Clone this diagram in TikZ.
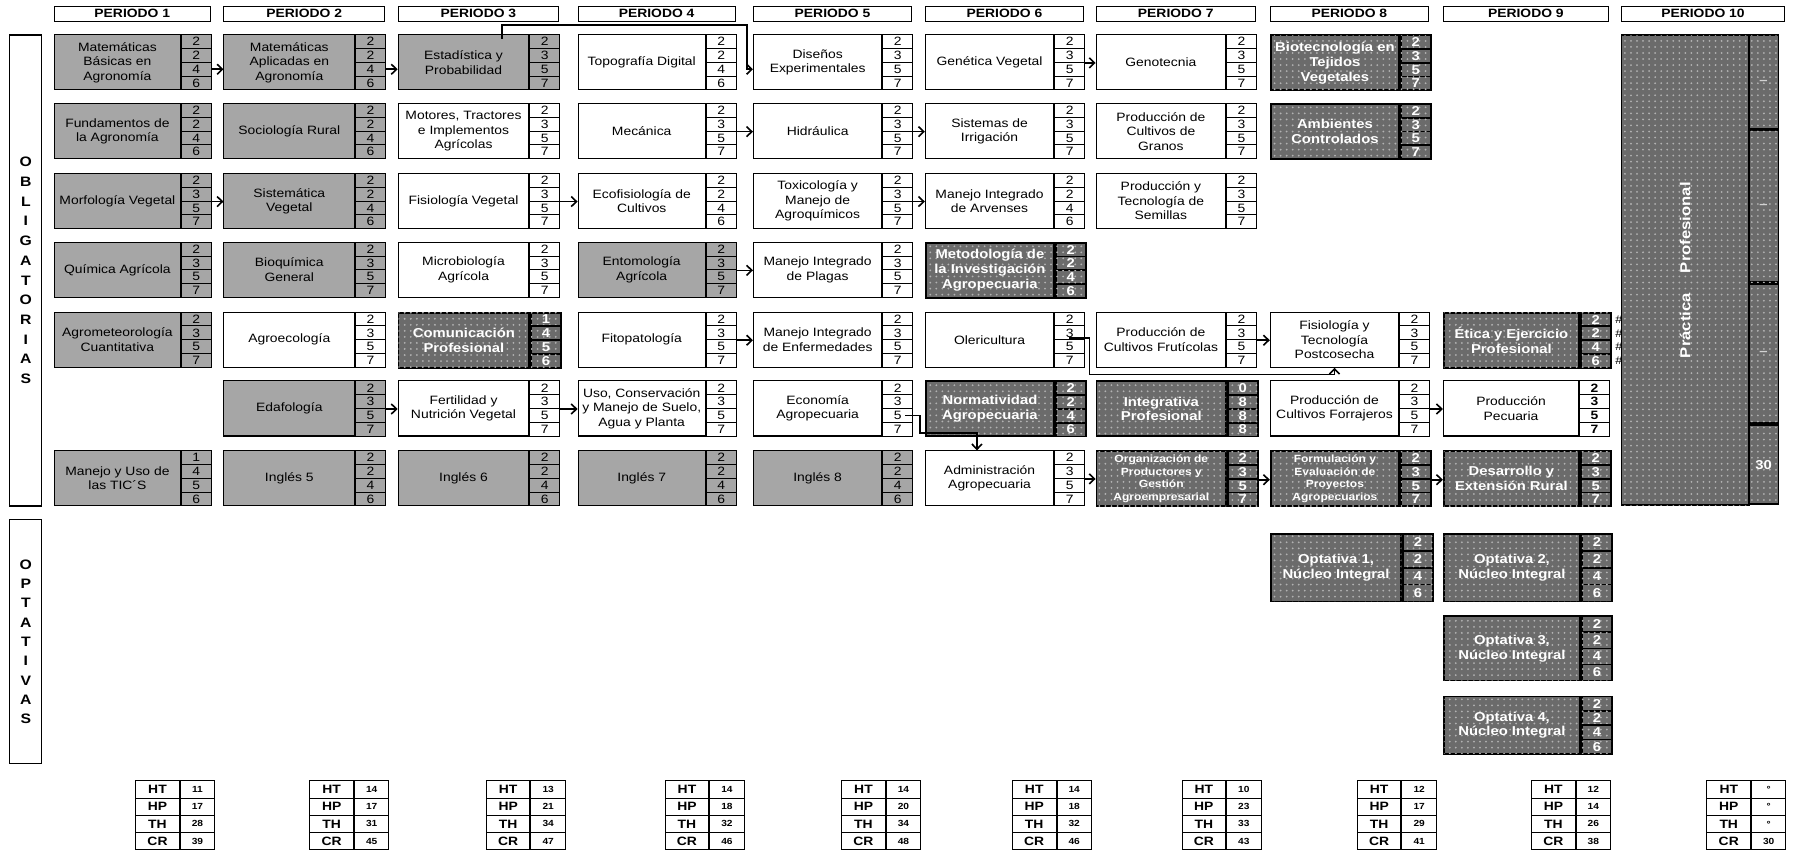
\documentclass[tikz,border=0pt]{standalone}
\usepackage{fontspec}
\setmainfont{Liberation Sans}[FakeStretch=1.15]
\usetikzlibrary{arrows.meta, calc, patterns}

% one course: name, style, x, y, width, height, text, hours
\newcommand{\asig}[8]{%
  \pgfmathsetmacro{\asancho}{(#5-26)*0.02}%
  \pgfmathsetmacro{\asalto}{#6*0.02}%
  \pgfmathsetmacro{\ascelda}{#6*0.005}%
  \node[#2, minimum width=\asancho cm, minimum height=\asalto cm] (#1) at (#3,#4) {#7};%
  \foreach \cifra [count=\i] in {#8}{%
    \node[#2num, minimum height=\ascelda cm] (#1\i) at ($(#1.north east)+(0,{(\i-1)*#6/4})$) {\cifra};}%
}
% totals under each period
\newcommand{\totales}[6]{%
  \foreach \et/\va [count=\i] in {HT/#3,HP/#4,TH/#5,CR/#6}{%
    \node[etiq] (#1e\i) at (#2,{681+(\i-1)*15}) {\et};
    \node[valor] (#1v\i) at (#1e\i.north east) {\va};}%
}

\begin{document}
\begin{tikzpicture}[x=0.02cm, y=-0.02cm,
  gris/.style={draw, line width=0.5pt, fill=gray!70, anchor=north west, inner sep=0.5pt, align=center, font=\fontsize{6}{7.2}\selectfont},
  grisnum/.style={gris, minimum width=0.52cm, inner sep=0pt},
  blanco/.style={gris, fill=white},
  blanconum/.style={blanco, minimum width=0.52cm, inner sep=0pt},
  blancob/.style={blanco},
  blancobnum/.style={blanconum, font=\bfseries\fontsize{6}{7.2}\selectfont},
  oscuro/.style={draw, line width=0.9pt, fill=black!58, postaction={pattern=dots, pattern color=black!30}, text=white, anchor=north west, inner sep=0.5pt, align=center, font=\bfseries\fontsize{6.4}{7.4}\selectfont},
  oscuronum/.style={oscuro, minimum width=0.52cm, inner sep=0pt},
  oscurop/.style={oscuro, font=\bfseries\fontsize{5.2}{6.2}\selectfont},
  oscuropnum/.style={oscuronum},
  periodo/.style={draw, line width=0.5pt, anchor=north west, minimum height=0.26cm, inner sep=0pt, font=\bfseries\fontsize{6}{7}\selectfont},
  lateral/.style={draw, line width=0.6pt, anchor=north west, minimum width=0.56cm, inner sep=0pt, align=center, font=\bfseries\fontsize{6.8}{9.8}\selectfont},
  etiq/.style={draw, line width=0.5pt, anchor=north west, minimum width=0.76cm, minimum height=0.3cm, inner sep=0pt, font=\bfseries\fontsize{6}{7}\selectfont},
  valor/.style={etiq, minimum width=0.6cm, font=\bfseries\fontsize{4.4}{5}\selectfont},
  flecha/.style={line width=0.8pt, -{Straight Barb[length=2.6pt, width=5pt]}},
]
  \useasboundingbox (0,0) rectangle (1568,742);

  % headers
  \node[periodo, minimum width=2.72cm] (per1) at (47,5) {PERIODO 1};
  \node[periodo, minimum width=2.80cm] (per2) at (195,5) {PERIODO 2};
  \node[periodo, minimum width=2.80cm] (per3) at (347,5) {PERIODO 3};
  \node[periodo, minimum width=2.74cm] (per4) at (504,5) {PERIODO 4};
  \node[periodo, minimum width=2.76cm] (per5) at (657,5) {PERIODO 5};
  \node[periodo, minimum width=2.76cm] (per6) at (807,5) {PERIODO 6};
  \node[periodo, minimum width=2.78cm] (per7) at (956,5) {PERIODO 7};
  \node[periodo, minimum width=2.76cm] (per8) at (1108,5) {PERIODO 8};
  \node[periodo, minimum width=2.88cm] (per9) at (1259,5) {PERIODO 9};
  \node[periodo, minimum width=2.86cm] (per10) at (1414,5) {PERIODO 10};

  \node[lateral, minimum height=8.22cm] (oblig) at (8,30) {O\\B\\L\\I\\G\\A\\T\\O\\R\\I\\A\\S};
  \node[lateral, minimum height=4.26cm, font=\bfseries\fontsize{6.8}{9.6}\selectfont] (optat) at (8,453) {O\\P\\T\\A\\T\\I\\V\\A\\S};

  % row 1
  \asig{matbas}{gris}{47}{30}{136}{48}{Matemáticas\\Básicas en\\Agronomía}{2,2,4,6}
  \asig{matapl}{gris}{195}{30}{140}{48}{Matemáticas\\Aplicadas en\\Agronomía}{2,2,4,6}
  \asig{estad}{gris}{347}{30}{140}{48}{Estadística y\\Probabilidad}{2,3,5,7}
  \asig{topo}{blanco}{504}{30}{137}{48}{Topografía Digital}{2,2,4,6}
  \asig{disenos}{blanco}{657}{30}{138}{48}{Diseños\\Experimentales}{2,3,5,7}
  \asig{genet}{blanco}{807}{30}{138}{48}{Genética Vegetal}{2,3,5,7}
  \asig{genot}{blanco}{956}{30}{139}{48}{Genotecnia}{2,3,5,7}
  \asig{biotec}{oscuro}{1108}{30}{138}{48}{Biotecnología en\\Tejidos\\Vegetales}{2,3,5,7}
  % row 2
  \asig{fund}{gris}{47}{90}{136}{48}{Fundamentos de\\la Agronomía}{2,2,4,6}
  \asig{socio}{gris}{195}{90}{140}{48}{Sociología Rural}{2,2,4,6}
  \asig{motores}{blanco}{347}{90}{140}{48}{Motores, Tractores\\e Implementos\\Agrícolas}{2,3,5,7}
  \asig{mecan}{blanco}{504}{90}{137}{48}{Mecánica}{2,3,5,7}
  \asig{hidra}{blanco}{657}{90}{138}{48}{Hidráulica}{2,3,5,7}
  \asig{irrig}{blanco}{807}{90}{138}{48}{Sistemas de\\Irrigación}{2,3,5,7}
  \asig{granos}{blanco}{956}{90}{139}{48}{Producción de\\Cultivos de\\Granos}{2,3,5,7}
  \asig{ambien}{oscuro}{1108}{90}{138}{48}{Ambientes\\Controlados}{2,3,5,7}
  % row 3
  \asig{morfo}{gris}{47}{151}{136}{48}{Morfología Vegetal}{2,3,5,7}
  \asig{sistem}{gris}{195}{151}{140}{48}{Sistemática\\Vegetal}{2,2,4,6}
  \asig{fisveg}{blanco}{347}{151}{140}{48}{Fisiología Vegetal}{2,3,5,7}
  \asig{ecofis}{blanco}{504}{151}{137}{48}{Ecofisiología de\\Cultivos}{2,2,4,6}
  \asig{toxic}{blanco}{657}{151}{138}{48}{Toxicología y\\Manejo de\\Agroquímicos}{2,3,5,7}
  \asig{arven}{blanco}{807}{151}{138}{48}{Manejo Integrado\\de Arvenses}{2,2,4,6}
  \asig{semill}{blanco}{956}{151}{139}{48}{Producción  y\\Tecnología de\\Semillas}{2,3,5,7}
  % row 4
  \asig{quim}{gris}{47}{211}{136}{48}{Química Agrícola}{2,3,5,7}
  \asig{bioq}{gris}{195}{211}{140}{48}{Bioquímica\\General}{2,3,5,7}
  \asig{micro}{blanco}{347}{211}{140}{48}{Microbiología\\Agrícola}{2,3,5,7}
  \asig{entomo}{gris}{504}{211}{137}{48}{Entomología\\Agrícola}{2,3,5,7}
  \asig{plagas}{blanco}{657}{211}{138}{48}{Manejo Integrado\\de Plagas}{2,3,5,7}
  \asig{metinv}{oscuro}{807}{211}{138}{48}{Metodología de\\la Investigación\\Agropecuaria}{2,2,4,6}
  % row 5
  \asig{agromet}{gris}{47}{272}{136}{48}{Agrometeorología\\Cuantitativa}{2,3,5,7}
  \asig{agroeco}{blanco}{195}{272}{140}{48}{Agroecología}{2,3,5,7}
  \asig{comunic}{oscuro}{347}{272}{140}{48}{Comunicación\\Profesional}{1,4,5,6}
  \asig{fitopat}{blanco}{504}{272}{137}{48}{Fitopatología}{2,3,5,7}
  \asig{enferm}{blanco}{657}{272}{138}{48}{Manejo Integrado\\de Enfermedades}{2,3,5,7}
  \asig{oleri}{blanco}{807}{272}{138}{48}{Olericultura}{2,3,5,7}
  \asig{frutic}{blanco}{956}{272}{139}{48}{Producción de\\Cultivos Frutícolas}{2,3,5,7}
  \asig{postcos}{blanco}{1108}{272}{138}{48}{Fisiología y\\Tecnología\\Postcosecha}{2,3,5,7}
  \asig{etica}{oscuro}{1259}{272}{144}{48}{Ética y Ejercicio\\Profesional}{2,2,4,6}
  % row 6
  \asig{edafo}{gris}{195}{332}{140}{48}{Edafología}{2,3,5,7}
  \asig{fertil}{blanco}{347}{332}{140}{48}{Fertilidad  y\\Nutrición Vegetal}{2,3,5,7}
  \asig{suelos}{blanco}{504}{332}{137}{48}{Uso, Conservación\\y Manejo de Suelo,\\Agua y Planta}{2,3,5,7}
  \asig{econ}{blanco}{657}{332}{138}{48}{Economía\\Agropecuaria}{2,3,5,7}
  \asig{normat}{oscuro}{807}{332}{138}{48}{Normatividad\\Agropecuaria}{2,2,4,6}
  \asig{integr}{oscuro}{956}{332}{139}{48}{Integrativa\\Profesional}{0,8,8,8}
  \asig{forraj}{blanco}{1108}{332}{138}{48}{Producción de\\Cultivos Forrajeros}{2,3,5,7}
  \asig{pecuar}{blancob}{1259}{332}{144}{48}{Producción\\Pecuaria}{2,3,5,7}
  % row 7
  \asig{tics}{gris}{47}{393}{136}{48}{Manejo y Uso de\\las TIC´S}{1,4,5,6}
  \asig{ingl5}{gris}{195}{393}{140}{48}{Inglés 5}{2,2,4,6}
  \asig{ingl6}{gris}{347}{393}{140}{48}{Inglés 6}{2,2,4,6}
  \asig{ingl7}{gris}{504}{393}{137}{48}{Inglés 7}{2,2,4,6}
  \asig{ingl8}{gris}{657}{393}{138}{48}{Inglés 8}{2,2,4,6}
  \asig{admin}{blanco}{807}{393}{138}{48}{Administración\\Agropecuaria}{2,3,5,7}
  \asig{organiz}{oscurop}{956}{393}{139}{48}{Organización de\\Productores y\\Gestión\\Agroempresarial}{2,3,5,7}
  \asig{formul}{oscurop}{1108}{393}{138}{48}{Formulación y\\Evaluación de\\Proyectos\\Agropecuarios}{2,3,5,7}
  \asig{desarr}{oscuro}{1259}{393}{144}{48}{Desarrollo y\\Extensión Rural}{2,3,5,7}

  % optativas
  \asig{opt1}{oscuro}{1108}{465}{140}{59}{Optativa 1,\\Núcleo Integral}{2,2,4,6}
  \asig{opt2}{oscuro}{1259}{465}{145}{59}{Optativa 2,\\Núcleo Integral}{2,2,4,6}
  \asig{opt3}{oscuro}{1259}{537}{145}{56}{Optativa 3,\\Núcleo Integral}{2,2,4,6}
  \asig{opt4}{oscuro}{1259}{607}{145}{50}{Optativa 4,\\Núcleo Integral}{2,2,4,6}

  \foreach \i in {1,...,4}
    \node[anchor=west, inner sep=0pt, font=\fontsize{5.5}{6}\selectfont] (hash\i) at ($(etica\i.east)+(3,0)$) {\#};

  % practica profesional
  \node[oscuro, minimum width=2.22cm, minimum height=8.2cm] (practica) at (1414,30) {};
  \node[text=white, font=\bfseries\fontsize{7.2}{8}\selectfont, rotate=90] (practxt) at (practica.center) {Práctica\hspace{10pt}Profesional};
  \node[oscuronum, minimum height=1.63cm, text=gray!35] (prac1) at (1525,30) {--};
  \node[oscuronum, minimum height=2.65cm, text=gray!35] (prac2) at (prac1.south west) {--};
  \node[oscuronum, minimum height=2.43cm, text=gray!35] (prac3) at (prac2.south west) {--};
  \node[oscuronum, minimum height=1.38cm] (prac4) at (prac3.south west) {30};

  % prerequisites
  \draw[flecha] (matbas3.east) -- (matbas3.east -| matapl.west);
  \draw[flecha] (matapl3.east) -- (matapl3.east -| estad.west);
  \draw[flecha] (genet2.south east) -- (genet2.south east -| genot.west);
  \draw[flecha] (mecan2.south east) -- (mecan2.south east -| hidra.west);
  \draw[flecha] (hidra2.south east) -- (hidra2.south east -| irrig.west);
  \draw[flecha] (morfo2.south east) -- (morfo2.south east -| sistem.west);
  \draw[flecha] (fisveg2.south east) -- (fisveg2.south east -| ecofis.west);
  \draw[flecha] (toxic2.south east) -- (toxic2.south east -| arven.west);
  \draw[flecha] (entomo2.south east) -- (entomo2.south east -| plagas.west);
  \draw[flecha] (fitopat2.south east) -- (fitopat2.south east -| enferm.west);
  \draw[flecha] (frutic2.south east) -- (frutic2.south east -| postcos.west);
  \draw[flecha] (edafo2.south east) -- (edafo2.south east -| fertil.west);
  \draw[flecha] (fertil2.south east) -- (fertil2.south east -| suelos.west);
  \draw[flecha] (forraj2.south east) -- (forraj2.south east -| pecuar.west);
  \draw[flecha] (admin2.south east) -- (admin2.south east -| organiz.west);
  \draw[flecha] (organiz2.south east) -- (organiz2.south east -| formul.west);
  \draw[flecha] (formul2.south east) -- (formul2.south east -| desarr.west);
  \draw[flecha] ($(estad.north west)+(91,4)$) -- ++(0,-12) -| ($(disenos.west)+(-5,6)$) -- ($(disenos.west)+(0,6)$);
  \draw[flecha] ($(oleri2.south east)+(-14,-2)$) -- ++(18,0) |- ($(postcos.south)+(0,6)$) -- (postcos.south);
  \draw[flecha] ($(econ3.east)+(-7,0)$) -- ++(13,0) |- ($(admin.north)+(-11,-15)$) -- ($(admin.north)+(-11,0)$);

  % totals
  \totales{t1}{118}{11}{17}{28}{39}
  \totales{t2}{270}{14}{17}{31}{45}
  \totales{t3}{424}{13}{21}{34}{47}
  \totales{t4}{580}{14}{18}{32}{46}
  \totales{t5}{734}{14}{20}{34}{48}
  \totales{t6}{883}{14}{18}{32}{46}
  \totales{t7}{1031}{10}{23}{33}{43}
  \totales{t8}{1184}{12}{17}{29}{41}
  \totales{t9}{1336}{12}{14}{26}{38}
  \totales{t10}{1489}{°}{°}{°}{30}
\end{tikzpicture}
\end{document}
